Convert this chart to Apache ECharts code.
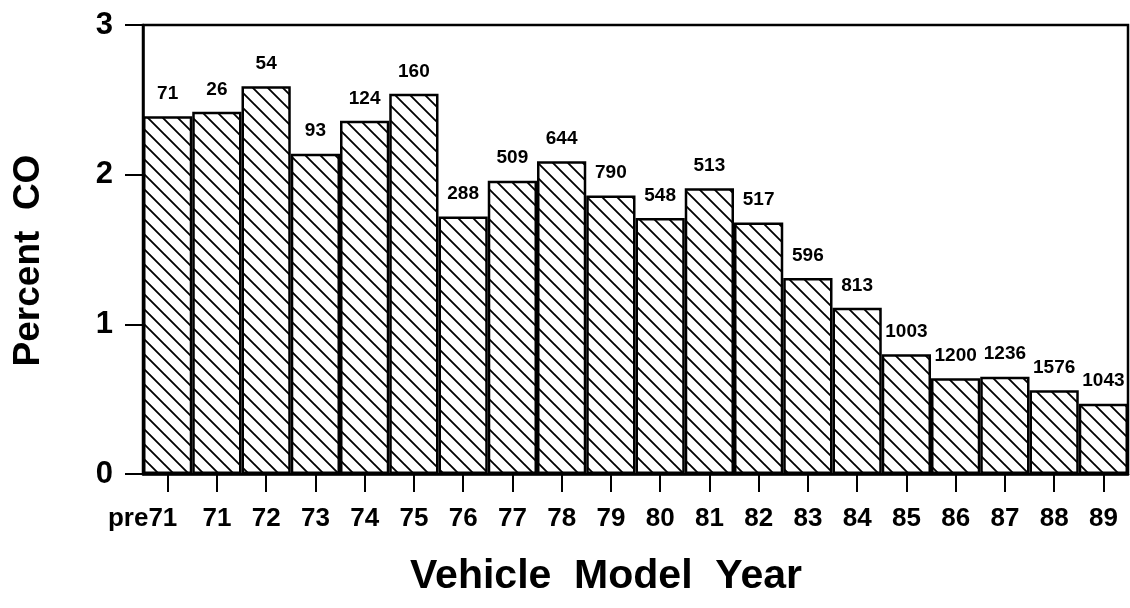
<!DOCTYPE html>
<html>
<head>
<meta charset="utf-8">
<script src="https://cdn.jsdelivr.net/npm/echarts@6/dist/echarts.min.js"></script>
<style>
  html, body { margin: 0; padding: 0; background: #fff; }
  #chart { width: 1130px; height: 608px; }
</style>
</head>
<body>
<div id="chart"></div>
<script>
// model years on the x axis
var years = ['pre71', '71', '72', '73', '74', '75', '76', '77', '78', '79',
             '80', '81', '82', '83', '84', '85', '86', '87', '88', '89'];
// mean percent CO per model year
var percentCO = [2.39, 2.42, 2.59, 2.14, 2.36, 2.54, 1.72, 1.96, 2.09, 1.86,
                 1.71, 1.91, 1.68, 1.31, 1.11, 0.80, 0.64, 0.65, 0.56, 0.47];
// number of vehicles (printed above each bar)
var counts = [71, 26, 54, 93, 124, 160, 288, 509, 644, 790,
              548, 513, 517, 596, 813, 1003, 1200, 1236, 1576, 1043];
var yTicks = [0, 1, 2, 3];

// diagonal hatch fill
function hatch() {
  var s = 15;
  var c = document.createElement('canvas');
  c.width = s; c.height = s;
  var ctx = c.getContext('2d');
  ctx.fillStyle = '#fff';
  ctx.fillRect(0, 0, s, s);
  ctx.strokeStyle = '#000';
  ctx.lineWidth = 1.8;
  ctx.beginPath();
  ctx.moveTo(-2, -2); ctx.lineTo(s + 2, s + 2);
  ctx.moveTo(-s - 2, -2); ctx.lineTo(2, s + 2);
  ctx.moveTo(s - 2, -2); ctx.lineTo(2 * s + 2, s + 2);
  ctx.stroke();
  return c;
}

// "pre71" sits a bit to the left of its tick, like the original
var xData = years.map(function (y, i) {
  return i === 0 ? { value: y, textStyle: { padding: [0, 50, 0, 0] } } : y;
});

var font = 'Liberation Sans, Arial, sans-serif';
var chart = echarts.init(document.getElementById('chart'));
chart.setOption({
  backgroundColor: '#fff',
  animation: false,
  grid: {
    left: 143, right: 2, top: 25, bottom: 134,
    outerBoundsMode: 'none',
    show: true, borderColor: '#000', borderWidth: 2.5
  },
  xAxis: {
    type: 'category',
    data: xData,
    name: 'Vehicle  Model  Year',
    nameLocation: 'middle',
    nameGap: 82,
    nameTextStyle: { fontFamily: font, fontWeight: 'bold', fontSize: 41, color: '#000', padding: [0, 59, 0, 0] },
    axisLine: { lineStyle: { color: '#000', width: 2.5 } },
    axisTick: { show: true, interval: 0, alignWithLabel: true, length: 18, lineStyle: { color: '#000', width: 2 } },
    axisLabel: { interval: 0, hideOverlap: false, fontFamily: font, fontWeight: 'bold', fontSize: 26, color: '#000', margin: 32 }
  },
  yAxis: {
    type: 'value',
    min: yTicks[0], max: yTicks[yTicks.length - 1], interval: 1,
    name: 'Percent  CO',
    nameLocation: 'middle',
    nameGap: 96,
    nameRotate: 90,
    nameTextStyle: { fontFamily: font, fontWeight: 'bold', fontSize: 37, color: '#000', padding: [0, 22, 0, 0] },
    splitLine: { show: false },
    axisLine: { show: true, lineStyle: { color: '#000', width: 2.5 } },
    axisTick: { show: true, length: 18, lineStyle: { color: '#000', width: 2 } },
    axisLabel: { fontFamily: font, fontWeight: 'bold', fontSize: 31, color: '#000', margin: 30 }
  },
  series: [{
    type: 'bar',
    data: percentCO,
    barCategoryGap: '0%',
    itemStyle: {
      color: { image: hatch(), repeat: 'repeat' },
      borderColor: '#000',
      borderWidth: 2.5
    },
    label: {
      show: true,
      position: 'top',
      distance: 13,
      fontFamily: font,
      fontWeight: 'bold',
      fontSize: 19,
      color: '#000',
      formatter: function (p) { return counts[p.dataIndex]; }
    }
  }]
});
</script>
</body>
</html>
